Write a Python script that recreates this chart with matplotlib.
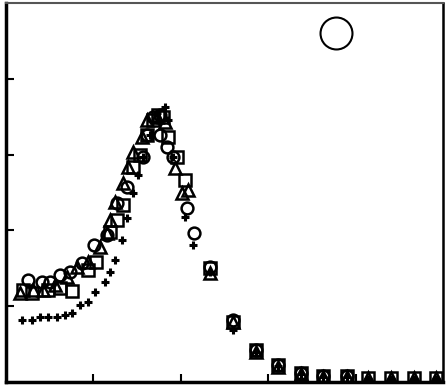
import numpy as np
import matplotlib
matplotlib.use('Agg')
import matplotlib.pyplot as plt

# Données
x_sq = [0.19, 0.30, 0.48, 0.62, 0.76, 0.94, 1.03, 1.19, 1.27, 1.34, 1.45, 1.53, 1.61, 1.68,
        1.74, 1.80, 1.85, 1.96, 2.05, 2.33, 2.60, 2.86, 3.11, 3.38, 3.63, 3.90, 4.14, 4.40, 4.67, 4.92]
y_sq = [1.21, 1.18, 1.21, 1.24, 1.20, 1.48, 1.58, 1.98, 2.14, 2.34, 2.84, 2.99, 3.26, 3.45,
        3.52, 3.50, 3.23, 2.97, 2.66, 1.50, 0.79, 0.42, 0.22, 0.12, 0.08, 0.08, 0.05, 0.05, 0.05, 0.05]

x_ci = [0.25, 0.41, 0.50, 0.62, 0.73, 0.87, 1.01, 1.16, 1.27, 1.38, 1.57, 1.61, 1.68, 1.76,
        1.76, 1.84, 1.91, 2.07, 2.15, 2.33, 2.60, 2.86, 3.11, 3.38, 3.63, 3.90]
y_ci = [1.35, 1.32, 1.32, 1.41, 1.45, 1.57, 1.81, 1.94, 2.36, 2.57, 2.97, 3.26, 3.50, 3.52,
        3.26, 3.10, 2.97, 2.30, 1.97, 1.52, 0.82, 0.42, 0.22, 0.12, 0.08, 0.08]

x_tr = [0.16, 0.31, 0.42, 0.56, 0.70, 0.81, 0.94, 1.08, 1.16, 1.19, 1.25, 1.34, 1.40, 1.45,
        1.56, 1.61, 1.73, 1.82, 1.93, 2.01, 2.08, 2.33, 2.60, 2.86, 3.11, 3.38, 3.63, 3.90,
        4.14, 4.40, 4.67, 4.92]
y_tr = [1.17, 1.21, 1.21, 1.28, 1.39, 1.52, 1.58, 1.78, 1.97, 2.14, 2.37, 2.63, 2.84, 3.03,
        3.23, 3.46, 3.50, 3.43, 2.82, 2.49, 2.53, 1.44, 0.79, 0.40, 0.20, 0.10, 0.07, 0.07,
        0.05, 0.05, 0.05, 0.05]

x_pl = [0.18, 0.30, 0.39, 0.48, 0.58, 0.68, 0.76, 0.85, 0.94, 1.02, 1.13, 1.19, 1.25, 1.33,
        1.38, 1.45, 1.51, 1.57, 1.65, 1.73, 1.82, 1.85, 1.91, 2.05, 2.14, 2.33, 2.60, 2.86,
        3.11, 3.38, 3.63, 3.90, 4.14, 4.40, 4.67, 4.92]
y_pl = [0.82, 0.82, 0.86, 0.86, 0.86, 0.88, 0.91, 1.02, 1.06, 1.19, 1.32, 1.45, 1.61, 1.87,
        2.16, 2.49, 2.73, 2.97, 3.26, 3.55, 3.63, 3.46, 2.97, 2.18, 1.81, 1.45, 0.69, 0.40,
        0.21, 0.11, 0.07, 0.06, 0.04, 0.04, 0.04, 0.04]

fig = plt.figure(figsize=(4.46, 3.88), dpi=100)
ax = fig.add_axes([0.0135, 0.0155, 0.980, 0.977])

mk = dict(linestyle='none', mfc='none', mec='black', mew=1.8)
ax.plot(x_sq, y_sq, marker='s', ms=9, **mk)
ax.plot(x_ci, y_ci, marker='o', ms=8.5, **mk)
ax.plot(x_tr, y_tr, marker='^', ms=8, **mk)
ax.plot(x_pl, y_pl, marker='+', ms=5.5, linestyle='none', color='black', mew=2.2)

# grand cercle en haut à droite
ax.plot([0.755], [0.921], marker='o', ms=23, mfc='none', mec='black', mew=1.5,
        transform=ax.transAxes, clip_on=False)

ax.set_xlim(0, 5)
ax.set_ylim(0, 5)
ax.set_xticks([1, 2, 3, 4])
ax.set_yticks([1, 2, 3, 4])
ax.tick_params(direction='in', length=6, width=1.5, labelbottom=False, labelleft=False)
ax.spines['left'].set_linewidth(2.5)
ax.spines['bottom'].set_linewidth(2.5)
ax.spines['right'].set_linewidth(1.8)
ax.spines['top'].set_linewidth(1.5)
ax.spines['top'].set_color('#555555')

plt.savefig('out.png', dpi=100)
